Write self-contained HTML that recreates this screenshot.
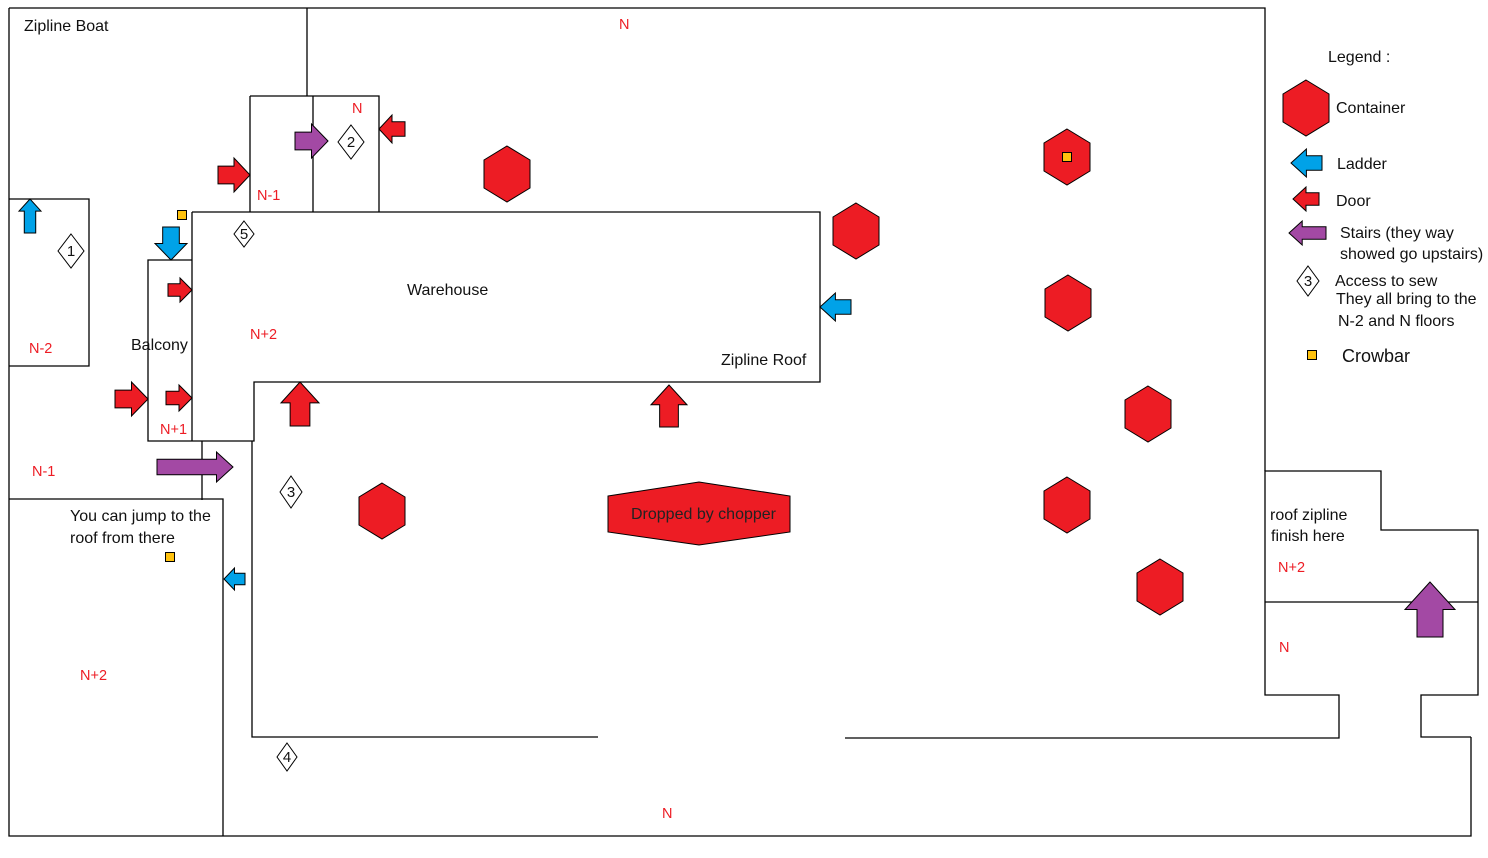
<!DOCTYPE html>
<html><head><meta charset="utf-8"><style>
html,body{margin:0;padding:0;background:#fff;}
svg{display:block;}
text{font-family:"Liberation Sans","DejaVu Sans",sans-serif;font-size:16px;fill:#111;}
.r{fill:#ed1c24;font-size:14.5px;}
</style></head><body>
<svg id="s" width="1488" height="858" viewBox="0 0 1488 858" xmlns="http://www.w3.org/2000/svg">
<g stroke="#000" stroke-width="1.3" fill="none">
<path d="M9 8H1265V471M9 8V836H1471V737M307 8V96"/>
<path d="M250 96H379V212M250 96V212M313 96V212"/>
<path d="M192 212H820V382H254V441H148V260H192M192 212V441"/>
<path d="M9 199H89V366H9"/>
<path d="M9 499H223V836M202 441V500M252 441V737H598M845 738H1339V695H1265V471H1381V530H1478V695H1421V737H1471"/>
<path d="M1265 602H1478"/>
</g>
<g id="hex" fill="#ed1c24" stroke="#000" stroke-width="1"></g>
<polygon points="608,496 699,482 790,496 790,532 699,545 608,532" fill="#ed1c24" stroke="#000"/>
<text x="631" y="519" style="fill:#222">Dropped by chopper</text>
<g id="arr" stroke="#000" stroke-width="1"></g>
<g id="dia" fill="#fff" stroke="#000" stroke-width="1"></g>
<g fill="#ffc20e" stroke="#000" stroke-width="1">
<rect x="177.5" y="210.5" width="9" height="9"/><rect x="1062.5" y="152.5" width="9" height="9"/>
<rect x="165.5" y="552.5" width="9" height="9"/><rect x="1307.5" y="350.5" width="9" height="9"/>
</g>
<text x="24" y="31">Zipline Boat</text>
<text class="r" x="619" y="29">N</text>
<text class="r" x="352" y="113">N</text>
<text class="r" x="257" y="200">N-1</text>
<text x="407" y="295">Warehouse</text>
<text class="r" x="250" y="339">N+2</text>
<text x="131" y="350">Balcony</text>
<text class="r" x="29" y="353">N-2</text>
<text x="721" y="365">Zipline Roof</text>
<text class="r" x="160" y="434">N+1</text>
<text class="r" x="32" y="476">N-1</text>
<text x="70" y="521">You can jump to the</text>
<text x="70" y="543">roof from there</text>
<text class="r" x="80" y="680">N+2</text>
<text class="r" x="662" y="818">N</text>
<text x="1270" y="520">roof zipline</text>
<text x="1271" y="541">finish here</text>
<text class="r" x="1278" y="572">N+2</text>
<text class="r" x="1279" y="652">N</text>
<text x="1328" y="62">Legend :</text>
<text x="1336" y="113">Container</text>
<text x="1337" y="169">Ladder</text>
<text x="1336" y="206">Door</text>
<text x="1340" y="238">Stairs (they way</text>
<text x="1340" y="259">showed go upstairs)</text>
<text x="1335" y="286">Access to sew</text>
<text x="1336" y="304">They all bring to the</text>
<text x="1338" y="326">N-2 and N floors</text>
<text x="1342" y="362" style="font-size:18px">Crowbar</text>
</svg>
<script>
var NS="http://www.w3.org/2000/svg";
function el(p,t,a){var e=document.createElementNS(NS,t);for(var k in a)e.setAttribute(k,a[k]);document.getElementById(p).appendChild(e);return e;}
[[507,174,28],[856,231,28],[1067,157,28],[1068,303,28],[1148,414,28],[1067,505,28],[1160,587,28],[382,511,28],[1306,108,28]].forEach(function(h){
 var pts=[];for(var i=0;i<6;i++){var a=Math.PI/180*(60*i-90);pts.push((h[0]+h[2]*0.95*Math.cos(a)).toFixed(1)+","+(h[1]+h[2]*Math.sin(a)).toFixed(1));}
 el("hex","polygon",{points:pts.join(" ")});});
var C={r:"#ed1c24",b:"#00a2e8",p:"#a349a4"};
function arrow(tx,ty,ang,L,W,c){var hl=Math.min(L*0.5,W*0.55),bw=W*0.52;
 var pts=[[0,0],[-hl,-W/2],[-hl,-bw/2],[-L,-bw/2],[-L,bw/2],[-hl,bw/2],[-hl,W/2]];
 el("arr","polygon",{points:pts.map(function(p){return p.join(",")}).join(" "),fill:C[c],transform:"translate("+tx+","+ty+") rotate("+ang+")"});}
arrow(250,175,0,32,34,"r");
arrow(328,141,0,33,34,"p");
arrow(379,129,180,26,28,"r");
arrow(30,199,-90,34,22,"b");
arrow(171,260,90,33,32,"b");
arrow(192,290,0,24,24,"r");
arrow(148,399,0,33,34,"r");
arrow(192,398,0,26,26,"r");
arrow(233,467,0,76,30,"p");
arrow(300,382,-90,44,38,"r");
arrow(669,385,-90,42,36,"r");
arrow(820,307,180,31,28,"b");
arrow(224,579,180,21,22,"b");
arrow(1430,582,-90,55,50,"p");
arrow(1291,163,180,31,28,"b");
arrow(1293,199,180,26,24,"r");
arrow(1289,233,180,37,24,"p");
[[71,251,26,34,"1"],[351,142,26,34,"2"],[244,234,20,26,"5"],[291,492,22,32,"3"],[287,757,20,28,"4"],[1308,281,22,30,"3"]].forEach(function(d){
 el("dia","polygon",{points:[d[0],d[1]-d[3]/2,d[0]+d[2]/2,d[1],d[0],d[1]+d[3]/2,d[0]-d[2]/2,d[1]].join(",")});
 var t=el("dia","text",{x:d[0],y:d[1]+5,"text-anchor":"middle",stroke:"none",fill:"#111",style:"font-size:15px"});t.textContent=d[4];});
</script>
</body></html>
